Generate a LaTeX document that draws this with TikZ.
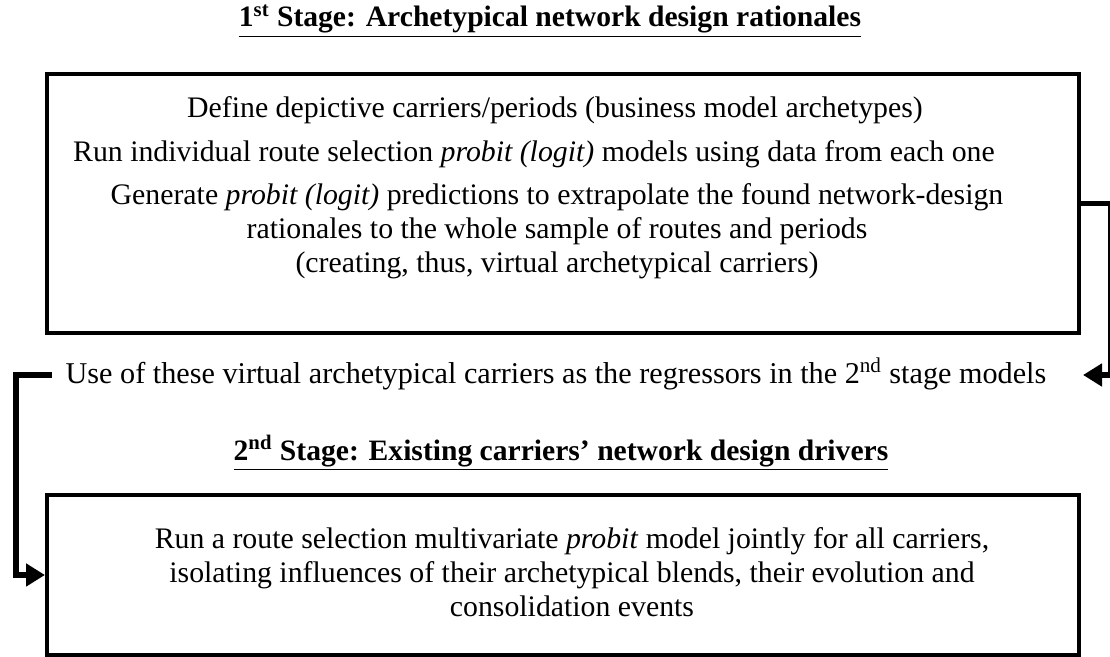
\documentclass[tikz,border=0pt]{standalone}
\usepackage{fontspec}
\setmainfont{Liberation Serif}
\usetikzlibrary{positioning,arrows.meta}

\begin{document}
\begin{tikzpicture}[
  x=0.5pt, y=-0.5pt,
  stagebox/.style={rectangle, draw=black, line width=2pt, anchor=north west,
              inner sep=0pt},
  title/.style={font=\fontsize{14.8}{17}\selectfont\bfseries, text centered},
  txt/.style={font=\fontsize{14.9}{17}\selectfont, align=center},
  link/.style={-{Triangle[length=9.5pt,width=11pt]}, line width=2.6pt}]
  \useasboundingbox (0,0) rectangle (1110,657);
  % first stage
  \node[title] (T1) at (550,21)
    {\underline{1\textsuperscript{st} Stage: Archetypical network design rationales}};
  \node[stagebox, minimum width=516pt, minimum height=129.5pt] (B1) at (45,72) {};
  \node[txt] (D1) at (555,110) {Define depictive carriers/periods (business model archetypes)};
  \node[txt] (D2) at (534,154) {Run individual route selection \textit{probit (logit)} models using data from each one};
  \node[txt] (D3) at (557,231) {Generate \textit{probit (logit)} predictions to extrapolate the found network-design\\
    rationales to the whole sample of routes and periods\\
    (creating, thus, virtual archetypical carriers)};
  % link between the stages
  \node[txt, font=\fontsize{15.1}{17}\selectfont] (U) at (556,374) {Use of these virtual archetypical carriers as the regressors in the 2\textsuperscript{nd} stage models};
  \coordinate (UR) at (1083,375);
  \coordinate (UL) at (52,375);
  % second stage
  \node[title] (T2) at (561,453)
    {\underline{2\textsuperscript{nd} Stage: Existing carriers' network design drivers}};
  \node[stagebox, minimum width=516pt, minimum height=80pt] (B2) at (45,493) {};
  \node[txt] (R1) at (572,572) {Run a route selection multivariate \textit{probit} model jointly for all carriers,\\
    isolating influences of their archetypical blends, their evolution and\\
    consolidation events};
  \draw[link] (B1.east) -- ++(30,0) |- (UR);
  \draw[link] (UL) -- ++(-36,0) |- (B2.west);
\end{tikzpicture}
\end{document}
